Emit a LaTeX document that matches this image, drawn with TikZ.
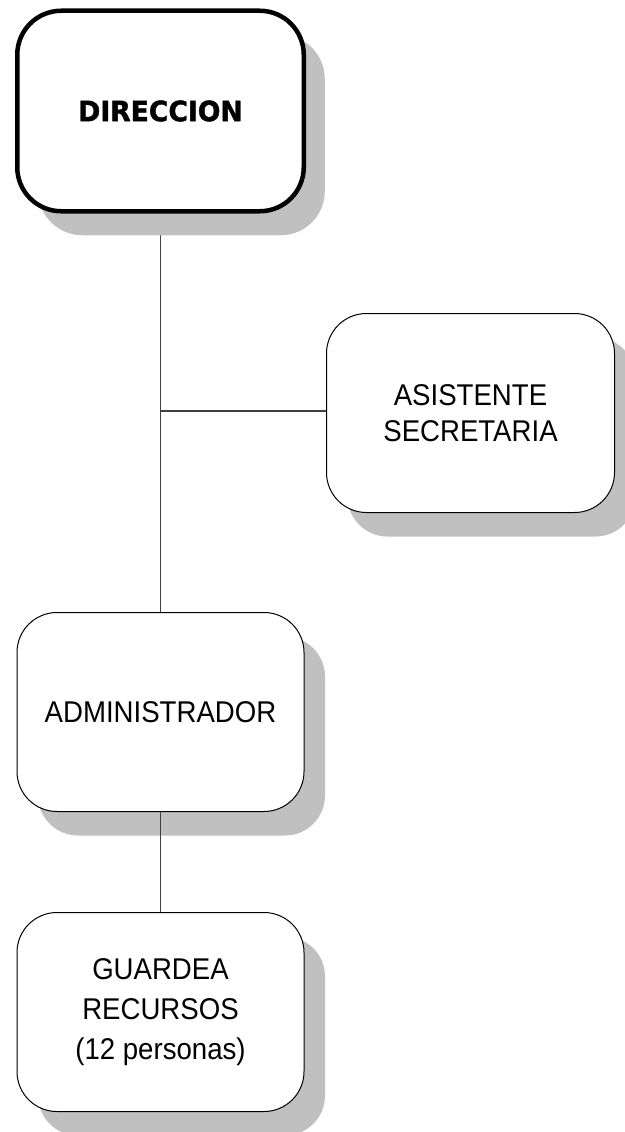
\documentclass[tikz,border=0pt]{standalone}
\usepackage{fontspec}
\setmainfont{Liberation Sans}
\newfontfamily\boxfont{Liberation Sans}[FakeStretch=0.92]
\newfontfamily\dirfont{DejaVu Sans}[FakeStretch=0.95,BoldFeatures={FakeBold=1.5}]
\usetikzlibrary{shadows,backgrounds}
\definecolor{shadowgray}{HTML}{C0C0C0}
\definecolor{linegray}{HTML}{404040}
\begin{document}
\begin{tikzpicture}[x=1pt,y=-1pt,
  box/.style={draw=black, fill=white, rounded corners=40pt, line width=1pt,
    minimum width=287pt, minimum height=199pt, align=center, inner sep=0pt,
    font=\boxfont\fontsize{30}{36}\selectfont,
    drop shadow={shadow xshift=21pt, shadow yshift=-24pt, fill=shadowgray, opacity=1}},
  conn/.style={draw=linegray, line width=1.3pt}]
\useasboundingbox (0,0) rectangle (624,1132);
\node[box, line width=4.5pt, minimum width=286.5pt, minimum height=200.5pt, rounded corners=44pt,
  font=\dirfont\bfseries\fontsize{28}{30}\selectfont] (dir) at (160.5,111) {DIRECCION};
\node[box, minimum width=288pt] (asis) at (470.5,413) {ASISTENTE\\SECRETARIA};
\node[box] (adm) at (160.5,712) {ADMINISTRADOR};
\node[box, font=\boxfont\fontsize{30}{40}\selectfont] (guard) at (160.5,1012) {GUARDEA\\RECURSOS\\(12 personas)};
\coordinate (j) at (160.5,411);
\begin{scope}[on background layer]
  \draw[conn] (dir.south) -- (j);
  \draw[conn] (j) -- (adm.north);
  \draw[conn] (j) -- (j -| asis.west);
\end{scope}
\draw[conn] (adm.south) -- (guard.north);
\end{tikzpicture}
\end{document}
